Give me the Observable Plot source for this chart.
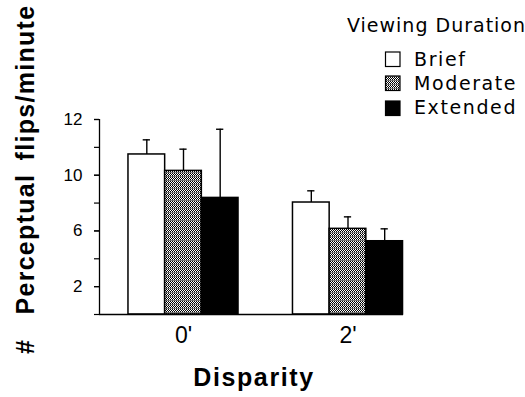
<!DOCTYPE html>
<html><head><meta charset="utf-8">
<script src="https://cdn.jsdelivr.net/npm/d3@7"></script>
<script src="https://cdn.jsdelivr.net/npm/@observablehq/plot@0.6"></script>
<style>body{margin:0;background:#fff}</style>
</head><body><div id="chart"></div>
<script>
const groups = ["0'", "2'"];
const durations = ["Brief", "Moderate", "Extended"];
const means = [[11.49, 10.31, 8.37], [8.04, 6.15, 5.26]];
const errors = [[1.05, 1.56, 4.93], [0.84, 0.86, 0.89]];
const yTickValues = [2, 6, 10, 14];
const yTickLabels = ["2", "6", "10", "12"];
const yAllTicks = [0, 2, 4, 6, 8, 10, 12, 14];
const legendTitle = "Viewing Duration";
const xTitle = "Disparity";
const yTitleA = "# ";
const yTitleB = "Perceptual flips/minute";

const fills = ["white", "url(#moderatePattern)", "black"];
const rows = [];
groups.forEach((g, gi) => durations.forEach((d, si) =>
  rows.push({g, gi, d, si, mean: means[gi][si], err: errors[gi][si]})));

const barW = 0.223, capW = 0.022;
const xDomain = [-0.5106, 1.3374];
const xc = r => r.gi + (r.si - 1) * barW;

const chart = Plot.plot({
  width: 525, height: 397,
  marginLeft: 99, marginRight: 122, marginTop: 119, marginBottom: 83,
  style: {fontFamily: "'Liberation Sans', Arial, sans-serif", background: "white", color: "black", overflow: "hidden"},
  x: {domain: xDomain, axis: null},
  y: {domain: [0, 14], axis: null},
  color: {type: "identity"},
  marks: [
    Plot.axisY(yAllTicks, {tickSize: 5, tickFormat: () => "", label: null, strokeWidth: 1.2}),
    Plot.axisY(yTickValues, {tickSize: 5, tickPadding: 12, label: null, fontSize: 17, strokeWidth: 1.2,
      tickFormat: d => yTickLabels[yTickValues.indexOf(d)]}),
    Plot.axisX([0, 1], {tickSize: 0, tickPadding: 12, label: null, fontSize: 23, tickFormat: i => groups[i]}),
    Plot.rectY(rows, {x1: r => xc(r) - barW / 2, x2: r => xc(r) + barW / 2, y1: 0, y2: "mean",
      fill: r => fills[r.si], stroke: "black", strokeWidth: 1.5}),
    Plot.ruleX(rows, {x: xc, y1: "mean", y2: r => r.mean + r.err, stroke: "black", strokeWidth: 1.4}),
    Plot.ruleY(rows, {y: r => r.mean + r.err, x1: r => xc(r) - capW, x2: r => xc(r) + capW, stroke: "black", strokeWidth: 1.4}),
    Plot.ruleY([0], {stroke: "black", strokeWidth: 1.3}),
    Plot.ruleX([xDomain[0]], {stroke: "black", strokeWidth: 1.3})
  ]
});

const svg = d3.select(chart);
const defs = svg.insert("defs", ":first-child");
const pat = defs.append("pattern").attr("id", "moderatePattern").attr("patternUnits", "userSpaceOnUse")
  .attr("width", 4).attr("height", 4);
pat.append("rect").attr("width", 4).attr("height", 4).attr("fill", "white");
pat.append("rect").attr("y", 0).attr("width", 4).attr("height", 1).attr("fill", "#777");
[[0,1],[2,1],[1,2],[3,2],[0,3],[2,3]].forEach(([px, py]) =>
  pat.append("rect").attr("x", px).attr("y", py).attr("width", 1).attr("height", 1).attr("fill", "black"));

// y title
const yt = svg.append("text").attr("transform", "translate(34,354) rotate(-90)")
  .attr("text-anchor", "start")
  .attr("font-family", "'Liberation Sans', Arial, sans-serif").attr("font-weight", "bold")
  .attr("font-size", 25).attr("letter-spacing", 1.3).attr("word-spacing", 5).attr("fill", "black");
yt.append("tspan").text(yTitleA);
yt.append("tspan").attr("dx", 11).text(yTitleB);

// x title
svg.append("text").attr("x", 254).attr("y", 386).attr("text-anchor", "middle")
  .attr("font-family", "'Liberation Sans', Arial, sans-serif").attr("font-weight", "bold")
  .attr("font-size", 25).attr("letter-spacing", 1.6).attr("fill", "black").text(xTitle);

// legend
const lg = svg.append("g").attr("font-family", "'DejaVu Sans', sans-serif").attr("font-size", 19)
  .attr("fill", "black").attr("text-anchor", "start");
lg.append("text").attr("x", 347).attr("y", 32).attr("letter-spacing", 1).text(legendTitle);
const boxY = [52, 76, 101];
const textY = [65.5, 89.5, 114];
durations.forEach((d, i) => {
  lg.append("rect").attr("x", 385.5).attr("y", boxY[i]).attr("width", 14.5).attr("height", 14.5)
    .attr("fill", fills[i]).attr("stroke", "black").attr("stroke-width", 1.2);
  lg.append("text").attr("x", 414).attr("y", textY[i]).attr("letter-spacing", 1.6).text(d);
});

document.getElementById("chart").appendChild(chart);
</script>
</body></html>
